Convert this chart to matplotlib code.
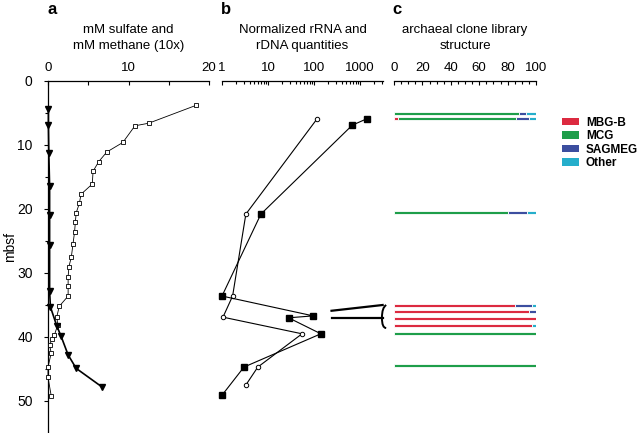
import numpy as np
import matplotlib
matplotlib.use('Agg')
import matplotlib.pyplot as plt
from matplotlib.patches import Patch, PathPatch
from matplotlib.path import Path

plt.rcParams['font.family'] = ['Liberation Sans', 'DejaVu Sans']

# panel a: porewater profiles
sulfate_depth = [3.8, 6.6, 7.0, 9.6, 11.1, 12.6, 14.1, 16.1, 17.7, 19.1, 20.6, 22.0,
                 23.6, 25.5, 27.5, 29.0, 30.6, 32.0, 33.6, 35.2, 36.8, 38.1, 39.7,
                 40.3, 41.3, 42.5, 44.7, 46.3, 49.2]
sulfate = [18.4, 12.5, 10.8, 9.3, 7.3, 6.3, 5.6, 5.5, 4.1, 3.9, 3.5, 3.4,
           3.3, 3.1, 2.9, 2.6, 2.5, 2.5, 2.5, 1.4, 1.1, 1.2, 0.8,
           0.5, 0.2, 0.4, 0.0, 0.0, 0.4]
methane_depth = [4.4, 6.9, 11.3, 16.4, 21.0, 25.6, 32.8, 35.3, 38.3, 39.8, 42.8, 44.9, 47.8]
methane = [0.05, 0.05, 0.1, 0.2, 0.2, 0.2, 0.2, 0.3, 1.1, 1.6, 2.5, 3.5, 6.7]

# panel b: normalized quantities
rrna_depth = [5.9, 6.9, 20.8, 33.6, 36.7, 37.0, 39.5, 44.7, 49.1]
rrna = [1410, 680, 7.0, 1.0, 96, 28, 141, 3.0, 1.0]
rdna_depth = [5.9, 20.8, 33.6, 36.9, 39.5, 44.7, 47.5]
rdna = [117, 3.3, 1.7, 1.05, 55, 6.0, 3.3]

# panel c: clone library composition (%)
clone_depth = [5.05, 5.8, 20.6, 35.1, 36.0, 37.1, 38.2, 39.5, 44.5]
groups = ['MBG-B', 'MCG', 'SAGMEG', 'Other']
mbgb = [0, 3, 0, 85, 95, 100, 97, 0, 0]
mcg = [88, 83, 80, 0, 0, 0, 0, 100, 100]
sagmeg = [5, 9, 14, 12, 5, 0, 0, 0, 0]
other = [7, 5, 6, 3, 0, 0, 3, 0, 0]
group_colors = ['#DC2A40', '#1E9E4A', '#3C4E9F', '#25AECB']

W, H = 640, 433
fig = plt.figure(figsize=(W / 100, H / 100), dpi=100)

top = 1 - 81 / H
ax_a = fig.add_axes([48 / W, 0, 161 / W, top])
ax_b = fig.add_axes([222 / W, 0, 161 / W, top])
ax_c = fig.add_axes([394 / W, 0, 142 / W, top])

for ax in (ax_a, ax_b, ax_c):
    ax.set_ylim(55, 0)
    ax.patch.set_alpha(0)
    for s in ('right', 'bottom'):
        ax.spines[s].set_visible(False)
    ax.spines['top'].set_linewidth(0.9)
    ax.xaxis.tick_top()
    ax.tick_params(axis='x', which='both', direction='in', length=3, width=0.8,
                   labelsize=9.5, pad=5)
    ax.tick_params(axis='x', which='minor', length=2)
for ax in (ax_b, ax_c):
    ax.spines['left'].set_visible(False)
    ax.set_yticks([])

# ---- panel a
ax_a.plot(sulfate, sulfate_depth, '-', color='black', lw=0.6, marker='s', ms=2.6,
          mfc='white', mec='black', mew=0.6, clip_on=False, zorder=3)
ax_a.plot(methane, methane_depth, '-', color='black', lw=1.2, marker='v', ms=5,
          mfc='black', mec='black', clip_on=False, zorder=4)
ax_a.set_xlim(0, 20)
ax_a.set_xticks([0, 10, 20])
ax_a.set_xticks([5, 15], minor=True)
ax_a.tick_params(axis='x', which='minor', length=3)
ax_a.spines['left'].set_linewidth(0.9)
ax_a.set_yticks([0, 10, 20, 30, 40, 50])
ax_a.set_yticks([5, 15, 25, 35, 45], minor=True)
ax_a.tick_params(axis='y', which='both', direction='out', length=3, width=0.8,
                 labelsize=10, pad=8)
ax_a.tick_params(axis='y', which='minor', length=2)
ax_a.set_ylabel('mbsf', fontsize=10)
ax_a.yaxis.set_label_coords(-0.19, 0.528)

# ---- panel b
ax_b.set_xscale('log')
ax_b.plot(rrna, rrna_depth, '-', color='black', lw=0.8, marker='s', ms=4.2,
          mfc='black', mec='black', clip_on=False, zorder=4)
ax_b.plot(rdna, rdna_depth, '-', color='black', lw=0.8, marker='o', ms=3.2,
          mfc='white', mec='black', mew=0.7, clip_on=False, zorder=3)
ax_b.set_xlim(1, 10 ** 3.5)
ax_b.set_xticks([1, 10, 100, 1000])
ax_b.set_xticklabels(['1', '10', '100', '1000'])

# ---- panel c
left = np.zeros(len(clone_depth))
for vals, name, col in zip([mbgb, mcg, sagmeg, other], groups, group_colors):
    ax_c.barh(clone_depth, vals, left=left, height=0.45, color=col,
              edgecolor='white', linewidth=0.6, label=name)
    left += np.array(vals)
ax_c.set_xlim(0, 100)
ax_c.set_xticks([0, 20, 40, 60, 80, 100])
ax_c.set_xticks(np.arange(0, 101, 5), minor=True)

# connector lines and bracket between panels b and c
ax_c.plot([-44, -8], [35.9, 35.0], color='black', lw=1.6, clip_on=False)
ax_c.plot([-44, -8], [37.0, 37.0], color='black', lw=1.6, clip_on=False)
brace = Path([(-5.5, 35.0), (-8.5, 35.4), (-8.5, 37.0), (-8.5, 38.6), (-5.5, 38.6)],
             [Path.MOVETO, Path.CURVE3, Path.CURVE3, Path.CURVE3, Path.CURVE3])
ax_c.add_patch(PathPatch(brace, fill=False, lw=1.4, clip_on=False))

# panel titles
titles = ['mM sulfate and\nmM methane (10x)',
          'Normalized rRNA and\nrDNA quantities',
          'archaeal clone library\nstructure']
for ax, t in zip((ax_a, ax_b, ax_c), titles):
    ax.text(0.5, 1 + 43 / 352, t, transform=ax.transAxes, ha='center', va='center',
            fontsize=9.5, linespacing=1.45)
fig.text(47 / W, 1 - 10 / H, 'a', fontsize=12, fontweight='bold', va='center')
fig.text(221 / W, 1 - 10 / H, 'b', fontsize=12, fontweight='bold', va='center')
fig.text(392 / W, 1 - 10 / H, 'c', fontsize=12, fontweight='bold', va='center')

handles = [Patch(facecolor=c, edgecolor='none') for c in group_colors]
leg = fig.legend(handles, groups, loc='upper left', bbox_to_anchor=(557 / W, 1 - 112 / H),
                 frameon=False, handlelength=1.5, handleheight=0.6, labelspacing=0.12,
                 handletextpad=0.55, borderaxespad=0,
                 prop={'weight': 'bold', 'size': 8.5})

fig.savefig('out.png', dpi=100)
